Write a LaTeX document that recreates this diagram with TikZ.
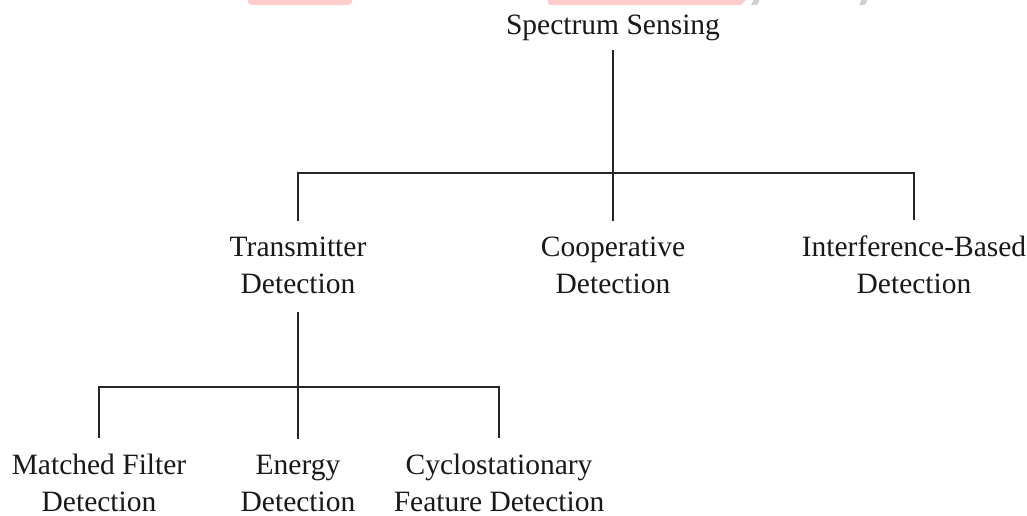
\documentclass[tikz,border=0pt]{standalone}
\usepackage{fontspec}
\setmainfont{Liberation Serif}
\begin{document}
\begin{tikzpicture}[x=1pt,y=1pt,
  lbl/.style={font=\fontsize{29.5}{37}\selectfont, align=center, inner sep=0pt, outer sep=0pt, anchor=base, text=black!90},
  conn/.style={line width=1.8pt, draw=black!85},
  wm/.style={fill=red!20!white, draw=none},
  wmg/.style={fill=black!18, draw=none}]
\useasboundingbox[fill=white] (0,0) rectangle (1027,-516);
% watermark fragments at the top edge
\fill[wm, rounded corners=2pt] (247,1) -- (353,1) -- (351,-5) -- (249,-5) -- cycle;
\fill[wm] (547,1) -- (746,1) -- (741,-5) -- (549,-5) -- cycle;
\fill[wmg] (754,1) -- (760,1) -- (757,-5) -- (751,-5) -- cycle;
\fill[wmg] (862,1) -- (868,1) -- (865,-5) -- (859,-5) -- cycle;
% nodes (base anchor = baseline of the last line)
\node[lbl] (ss) at (613,-35) {Spectrum Sensing};
\node[lbl] (td) at (298,-293) {Transmitter\\Detection};
\node[lbl] (cd) at (613,-293) {Cooperative\\Detection};
\node[lbl] (ib) at (914,-293) {Interference-Based\\Detection};
\node[lbl] (mf) at (99,-511) {Matched Filter\\Detection};
\node[lbl] (ed) at (298,-511) {Energy\\Detection};
\node[lbl] (cf) at (499,-511) {Cyclostationary\\Feature Detection};
% junctions
\coordinate (j1) at (613,-173);
\coordinate (j2) at (298,-387);
% connectors
\draw[conn] ([yshift=-9pt]ss.south) -- (j1);
\draw[conn] ([yshift=15pt]td.north) -- (td.north |- j1) -- (ib.north |- j1) -- ([yshift=15pt]ib.north);
\draw[conn] (j1) -- ([yshift=15pt]cd.north);
\draw[conn] ([yshift=-19pt]td.south) -- (j2);
\draw[conn] ([yshift=16pt]mf.north) -- (mf.north |- j2) -- (cf.north |- j2) -- ([yshift=16pt]cf.north);
\draw[conn] (j2) -- ([yshift=16pt]ed.north);
\end{tikzpicture}
\end{document}
